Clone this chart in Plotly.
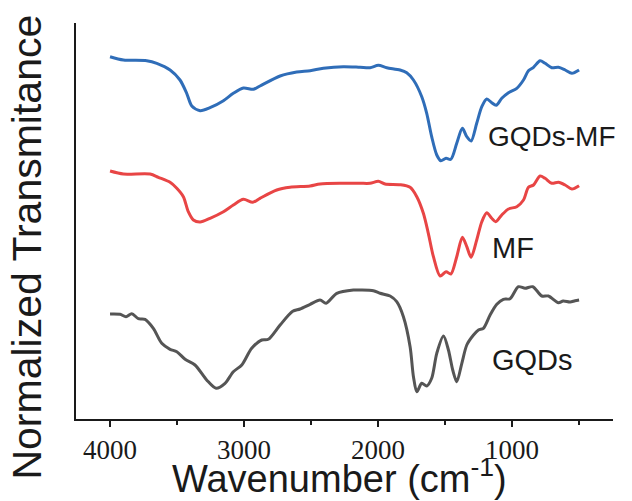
import plotly.graph_objects as go

# Wavenumbers (cm-1) and normalized transmittance (arbitrary offset units)
wn_gqdsmf = [4000, 3900, 3726, 3651, 3552, 3478, 3428, 3390, 3328, 3254, 3154, 3080, 3005, 2930, 2881,
             2731, 2607, 2507, 2408, 2259, 2134, 2060, 1998, 1935, 1836, 1786, 1736, 1674, 1637, 1600,
             1562, 1532, 1493, 1457, 1413, 1371, 1338, 1306, 1264, 1226, 1189, 1152, 1119, 1077, 1027,
             965, 915, 878, 840, 791, 754, 704, 654, 604, 554, 500]
t_gqdsmf = [362.3, 359, 358.3, 355.7, 349, 339, 325.7, 313, 308.3, 311.3, 318.3, 325.7, 331, 329.7, 333,
            343, 347, 348.3, 350.7, 352.3, 351.7, 351.3, 353.7, 351.3, 349, 346.3, 339, 322.3, 305.7, 282.3,
            264, 258.3, 260.7, 259.7, 275.7, 290.7, 282.3, 278, 295.7, 312.3, 320, 316.3, 313.7, 320.7, 326.3,
            330.7, 339, 348.3, 351.7, 358.3, 355.7, 351.3, 351.7, 349, 345.7, 349]

wn_mf = [4000, 3900, 3701, 3639, 3552, 3502, 3453, 3416, 3378, 3328, 3254, 3154, 3080, 3005, 2935, 2881,
         2756, 2657, 2507, 2433, 2259, 2134, 2060, 1998, 1948, 1836, 1761, 1711, 1662, 1625, 1587,
         1537, 1493, 1457, 1413, 1371, 1338, 1306, 1264, 1226, 1189, 1152, 1122, 1077, 1027,
         965, 915, 878, 840, 791, 754, 704, 654, 604, 554, 500]
t_mf = [248, 245, 245, 241.7, 236.7, 230.7, 222.3, 207.3, 199, 197, 200.7, 207.3, 214, 219.7, 216.7, 220.7,
        229, 231.7, 233, 235, 235.7, 235.7, 235.7, 237.7, 235, 234.3, 231.7, 222.3, 205.7, 185.7, 162.3,
        143, 147.3, 145, 162.3, 181.7, 172.3, 161.7, 179, 197.3, 206.3, 200.7, 197.3, 204, 210,
        212.3, 219, 231.7, 234, 243, 240.7, 235.7, 236.7, 234, 230, 233.3]

wn_gqds = [4000, 3925, 3881, 3838, 3789, 3739, 3677, 3614, 3552, 3502, 3440, 3366, 3279, 3209, 3142,
           3080, 3017, 2943, 2868, 2819, 2731, 2637, 2582, 2507, 2433, 2388, 2308, 2184, 2134, 2035,
           1985, 1910, 1861, 1811, 1761, 1736, 1711, 1674, 1637, 1600, 1562, 1512, 1475, 1443, 1413,
           1375, 1338, 1288, 1251, 1214, 1164, 1114, 1065, 1015, 953, 903, 846, 778, 729, 654, 619,
           567, 530, 500]
t_gqds = [105, 104.7, 102.3, 105.3, 100.3, 99.7, 90.7, 75.7, 69.7, 67.3, 59.7, 54, 39, 30.7, 35.7,
          47.3, 54, 70.7, 79, 79.7, 94, 107.7, 110, 114.7, 119, 115.7, 125.7, 129, 129, 128.3,
          125.7, 123, 117.3, 102.3, 72.3, 42.3, 27.3, 35.7, 33, 40.7, 65.7, 83, 69, 49, 37.3,
          55.7, 74, 84, 89, 90.7, 104, 114.7, 119.7, 120.3, 132.3, 130.7, 132.3, 123, 123, 116.3, 118,
          117, 118.3, 119]

series_names = ["GQDs-MF", "MF", "GQDs"]
series_colors = ["#2f6db8", "#e84545", "#555555"]
x_tickvals = [4000, 3000, 2000, 1000]
x_ticktext = ["4000", "3000", "2000", "1000"]
x_title = "Wavenumber (cm<sup>-1</sup>)"
y_title = "Normalized Transmitance"

FONT = "Liberation Sans"
INK = "#1a1a1a"

fig = go.Figure()
for name, wn, t, c in zip(series_names, [wn_gqdsmf, wn_mf, wn_gqds], [t_gqdsmf, t_mf, t_gqds], series_colors):
    fig.add_trace(go.Scatter(x=wn, y=t, mode="lines", name=name,
                             line=dict(color=c, width=3, shape="spline", smoothing=0.8),
                             showlegend=False))

# curve labels
label_pos = [(1192, 283), (1162, 171), (1162, 59)]
label_size = [28, 29, 29]
for name, (lx, ly), sz in zip(series_names, label_pos, label_size):
    fig.add_annotation(x=lx, y=ly, text=name, showarrow=False, xanchor="left", yanchor="middle",
                       font=dict(family=FONT, size=sz, color=INK))

# axis titles
fig.add_annotation(xref="paper", yref="paper", x=0.4898, y=-0.143, text=x_title, showarrow=False,
                   xanchor="center", yanchor="middle", font=dict(family=FONT, size=38, color=INK))
fig.add_annotation(xref="paper", yref="paper", x=-0.0912, y=0.433, text=y_title, showarrow=False,
                   textangle=-90, xanchor="center", yanchor="middle",
                   font=dict(family=FONT, size=41, color=INK))

fig.update_layout(
    width=632, height=501,
    margin=dict(l=76, r=19, t=23, b=82),
    paper_bgcolor="white", plot_bgcolor="white",
    font=dict(family=FONT, color=INK),
    xaxis=dict(range=[4254, 247], showline=True, linecolor=INK, linewidth=2,
               showgrid=False, zeroline=False,
               tickvals=x_tickvals, ticktext=x_ticktext,
               ticks="outside", ticklen=6, tickwidth=2, tickcolor=INK,
               tickfont=dict(family="Liberation Sans Narrow", size=27, color=INK),
               minor=dict(dtick=500, tick0=0, ticks="outside", ticklen=4, tickwidth=2, tickcolor=INK)),
    yaxis=dict(range=[0, 396], showline=True, linecolor=INK, linewidth=2,
               showgrid=False, zeroline=False, showticklabels=False, ticks=""),
)

fig.write_html("out.html")
